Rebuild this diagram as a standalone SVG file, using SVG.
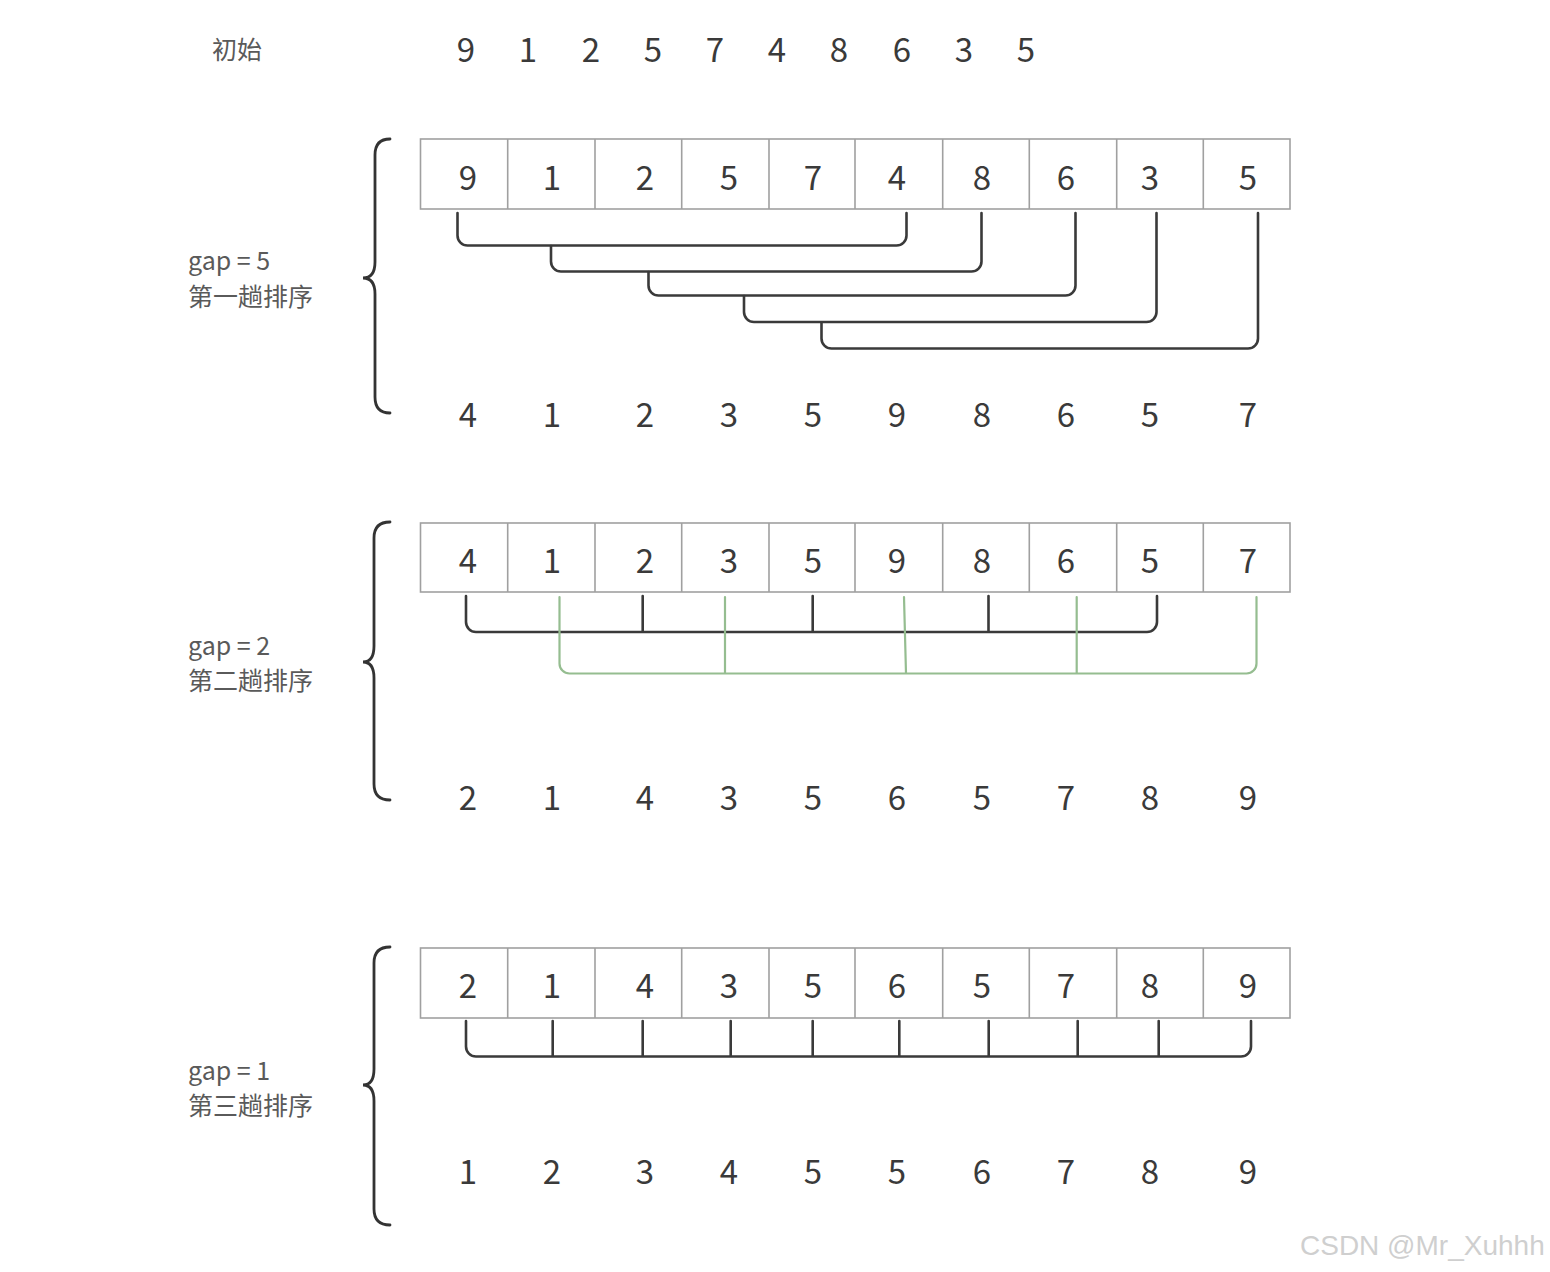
<svg xmlns="http://www.w3.org/2000/svg" width="1550" height="1272" viewBox="0 0 1550 1272">
<style>
.num{font-family:"Noto Sans CJK SC","Noto Sans",sans-serif;font-size:33px;fill:#3a3a3a;text-anchor:middle}
.lbl{font-family:"Noto Sans CJK SC","Noto Sans",sans-serif;font-size:25px;fill:#5a5a5a}
.cell{fill:#fff;stroke:#a0a0a0;stroke-width:1.6}
.br{fill:none;stroke:#3a3a3a;stroke-width:2.6;stroke-linecap:round;stroke-linejoin:round}
.gr{fill:none;stroke:#95bd90;stroke-width:2.2;stroke-linecap:round;stroke-linejoin:round}
.brace{fill:none;stroke:#333;stroke-width:2.8;stroke-linecap:round}
.wm{font-family:"Liberation Sans",Arial,sans-serif;font-size:28px;fill:#cfcfcf}
</style>
<rect width="1550" height="1272" fill="#fff"/>

<g id="initial">
<text class="lbl" x="212" y="59">初始</text>
<g class="num">
<text x="466" y="62">9</text><text x="528" y="62">1</text><text x="591" y="62">2</text><text x="653" y="62">5</text><text x="715" y="62">7</text><text x="777" y="62">4</text><text x="839" y="62">8</text><text x="902" y="62">6</text><text x="964" y="62">3</text><text x="1026" y="62">5</text>
</g>
</g>

<g id="pass1">
<text class="lbl" x="188" y="270">gap = 5</text>
<text class="lbl" x="188" y="306">第一趟排序</text>
<path class="brace" d="M390,139 Q375,139 375,155 V262 Q375,278 363,278 Q375,278 375,294 V397 Q375,413 390,413"/>
<g id="row1">
<rect class="cell" x="420.5" y="139" width="869.5" height="70"/>
<path class="cell" d="M507.7,139V209M595,139V209M681.7,139V209M769,139V209M855,139V209M942.7,139V209M1029.3,139V209M1116.7,139V209M1203.3,139V209"/>
<g class="num">
<text x="468" y="190">9</text><text x="552" y="190">1</text><text x="645" y="190">2</text><text x="729" y="190">5</text><text x="813" y="190">7</text><text x="897" y="190">4</text><text x="982" y="190">8</text><text x="1066" y="190">6</text><text x="1150" y="190">3</text><text x="1248" y="190">5</text>
</g>
</g>
<g class="num" id="result1">
<text x="468" y="427">4</text><text x="552" y="427">1</text><text x="645" y="427">2</text><text x="729" y="427">3</text><text x="813" y="427">5</text><text x="897" y="427">9</text><text x="982" y="427">8</text><text x="1066" y="427">6</text><text x="1150" y="427">5</text><text x="1248" y="427">7</text>
</g>
</g>

<g id="pass2">
<text class="lbl" x="188" y="655">gap = 2</text>
<text class="lbl" x="188" y="690">第二趟排序</text>
<path class="brace" d="M390,522 Q374,522 374,538 V646 Q374,662 363,662 Q374,662 374,678 V784 Q374,800 390,800"/>
<g id="row2">
<rect class="cell" x="420.5" y="523" width="869.5" height="69"/>
<path class="cell" d="M507.7,523V592M595,523V592M681.7,523V592M769,523V592M855,523V592M942.7,523V592M1029.3,523V592M1116.7,523V592M1203.3,523V592"/>
<g class="num">
<text x="468" y="573">4</text><text x="552" y="573">1</text><text x="645" y="573">2</text><text x="729" y="573">3</text><text x="813" y="573">5</text><text x="897" y="573">9</text><text x="982" y="573">8</text><text x="1066" y="573">6</text><text x="1150" y="573">5</text><text x="1248" y="573">7</text>
</g>
</g>
<g class="num" id="result2">
<text x="468" y="810">2</text><text x="552" y="810">1</text><text x="645" y="810">4</text><text x="729" y="810">3</text><text x="813" y="810">5</text><text x="897" y="810">6</text><text x="982" y="810">5</text><text x="1066" y="810">7</text><text x="1150" y="810">8</text><text x="1248" y="810">9</text>
</g>
</g>

<g id="pass3">
<text class="lbl" x="188" y="1080">gap = 1</text>
<text class="lbl" x="188" y="1115">第三趟排序</text>
<path class="brace" d="M390,947 Q374,947 374,963 V1069 Q374,1085 363,1085 Q374,1085 374,1101 V1209 Q374,1225 390,1225"/>
<g id="row3">
<rect class="cell" x="420.5" y="948" width="869.5" height="70"/>
<path class="cell" d="M507.7,948V1018M595,948V1018M681.7,948V1018M769,948V1018M855,948V1018M942.7,948V1018M1029.3,948V1018M1116.7,948V1018M1203.3,948V1018"/>
<g class="num">
<text x="468" y="998">2</text><text x="552" y="998">1</text><text x="645" y="998">4</text><text x="729" y="998">3</text><text x="813" y="998">5</text><text x="897" y="998">6</text><text x="982" y="998">5</text><text x="1066" y="998">7</text><text x="1150" y="998">8</text><text x="1248" y="998">9</text>
</g>
</g>
<g class="num" id="result3">
<text x="468" y="1184">1</text><text x="552" y="1184">2</text><text x="645" y="1184">3</text><text x="729" y="1184">4</text><text x="813" y="1184">5</text><text x="897" y="1184">5</text><text x="982" y="1184">6</text><text x="1066" y="1184">7</text><text x="1150" y="1184">8</text><text x="1248" y="1184">9</text>
</g>
</g>

<g id="connectors">
<path class="br" d="M457.5,213V235.5A10,10 0 0 0 467.5,245.5H896.5A10,10 0 0 0 906.5,235.5V213"/>
<path class="br" d="M551,246V261.5A10,10 0 0 0 561,271.5H971.5A10,10 0 0 0 981.5,261.5V213"/>
<path class="br" d="M648.5,272V285.5A10,10 0 0 0 658.5,295.5H1065.5A10,10 0 0 0 1075.5,285.5V213"/>
<path class="br" d="M744,296V312A10,10 0 0 0 754,322H1146.5A10,10 0 0 0 1156.5,312V213"/>
<path class="br" d="M821.5,323V338.5A10,10 0 0 0 831.5,348.5H1248A10,10 0 0 0 1258,338.5V213"/>

<path class="br" d="M466,596V622A10,10 0 0 0 476,632H1147A10,10 0 0 0 1157,622V596M642.7,596V632M812.7,596V632M988.5,596V632"/>
<path class="gr" d="M559.5,597V663.5A10,10 0 0 0 569.5,673.5H1246.5A10,10 0 0 0 1256.5,663.5V597M725,597V673.5M904,597L906,673.5M1076.7,597V673.5"/>

<path class="br" d="M466,1021V1046.5A10,10 0 0 0 476,1056.5H1241A10,10 0 0 0 1251,1046.5V1021M552.7,1021V1056.5M642.7,1021V1056.5M730.7,1021V1056.5M812.7,1021V1056.5M899.3,1021V1056.5M988.7,1021V1056.5M1077.7,1021V1056.5M1158.7,1021V1056.5"/>
</g>

<text class="wm" x="1300" y="1255">CSDN @Mr_Xuhhh</text>
</svg>
